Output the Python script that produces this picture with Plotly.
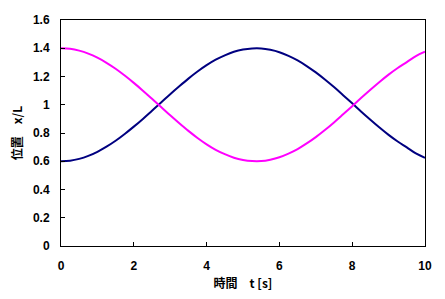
import plotly.graph_objects as go

t = [i * 0.25 for i in range(41)]
navy_x = [0.600, 0.604, 0.617, 0.638, 0.667, 0.703, 0.745, 0.793, 0.845, 0.900,
          0.958, 1.016, 1.075, 1.131, 1.185, 1.235, 1.280, 1.319, 1.350, 1.375,
          1.391, 1.399, 1.399, 1.389, 1.372, 1.346, 1.314, 1.274, 1.229, 1.179,
          1.125, 1.068, 1.010, 0.951, 0.894, 0.839, 0.787, 0.740, 0.698, 0.655,
          0.625]
magenta_x = [1.400, 1.396, 1.383, 1.362, 1.333, 1.297, 1.255, 1.207, 1.155, 1.100,
             1.042, 0.984, 0.925, 0.869, 0.815, 0.765, 0.720, 0.681, 0.650, 0.625,
             0.609, 0.601, 0.601, 0.611, 0.628, 0.654, 0.686, 0.726, 0.771, 0.821,
             0.875, 0.932, 0.990, 1.049, 1.106, 1.161, 1.213, 1.260, 1.302, 1.345,
             1.375]

font_fam = "Liberation Sans, Noto Sans CJK JP, sans-serif"
title_fam = "Noto Sans CJK JP, sans-serif"

fig = go.Figure()
fig.add_trace(go.Scatter(x=t, y=navy_x, mode="lines", line=dict(color="#000080", width=2, shape="spline"), showlegend=False))
fig.add_trace(go.Scatter(x=t, y=magenta_x, mode="lines", line=dict(color="#FF00FF", width=2, shape="spline"), showlegend=False))

fig.update_layout(
    width=445, height=299,
    margin=dict(l=61, r=20, t=20, b=53),
    paper_bgcolor="white", plot_bgcolor="white",
    font=dict(family=font_fam, size=11, color="black", weight="bold"),
)
fig.update_xaxes(
    range=[0, 10], tickmode="linear", tick0=0, dtick=2, automargin=False,
    showgrid=False, zeroline=False, showline=True, mirror=True,
    linecolor="black", linewidth=1, ticks="inside", ticklen=4, tickcolor="black",
    title=dict(text="時間　t [s]", font=dict(family=title_fam, size=12, weight="bold"), standoff=7),
    tickfont=dict(family=font_fam, size=12, weight="bold"),
    ticklabelstandoff=9,
)
fig.update_yaxes(
    range=[0, 1.6], tickmode="linear", tick0=0, dtick=0.2, automargin=False,
    showgrid=False, zeroline=False, showline=True, mirror=True,
    linecolor="black", linewidth=1, ticks="inside", ticklen=4, tickcolor="black",
    title=dict(text="位置　x/L", font=dict(family=title_fam, size=12, weight="bold"), standoff=7),
    tickfont=dict(family=font_fam, size=12, weight="bold"),
    ticklabelstandoff=8,
)

fig.write_html("out.html")
